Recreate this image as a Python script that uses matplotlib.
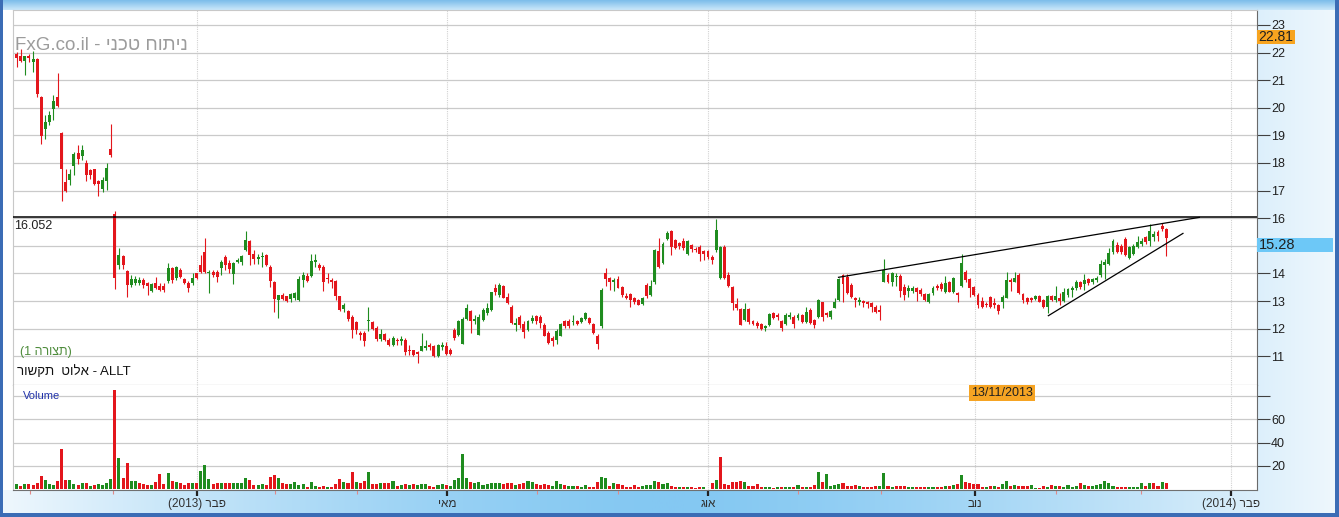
import numpy as np
import matplotlib
matplotlib.use('Agg')
import matplotlib.pyplot as plt
import matplotlib.transforms as mtransforms
from matplotlib.colors import LinearSegmentedColormap
from matplotlib.patches import Rectangle

plt.rcParams['font.family'] = ['Liberation Sans', 'DejaVu Sans']

# ALLT daily candles (about Nov 2012 - Jan 2014)
opens = [
    21.95, 21.89, 21.69, 21.89, 21.65, 21.77, 20.39, 19.22, 19.48, 19.94,
    20.39, 19.10, 17.31, 17.37, 17.89, 18.36, 18.24, 18.01, 17.73, 17.77,
    17.34, 17.07, 17.34, 18.52, 16.17, 14.30, 14.63, 14.10, 13.58, 13.64,
    13.66, 13.76, 13.64, 13.36, 13.64, 13.55, 13.55, 13.72, 14.18, 13.84,
    14.14, 13.80, 13.67, 13.64, 14.00, 14.30, 14.76, 14.00, 14.06, 14.06,
    14.18, 14.60, 14.36, 13.97, 14.42, 14.42, 14.84, 15.17, 14.72, 14.51,
    14.59, 14.66, 14.24, 13.70, 13.04, 13.22, 13.18, 13.08, 13.10, 13.04,
    13.76, 13.92, 13.92, 14.42, 14.30, 14.24, 13.85, 13.76, 13.73, 13.17,
    12.72, 12.64, 12.44, 12.24, 11.84, 11.86, 12.28, 12.24, 12.02, 11.63,
    11.80, 11.60, 11.40, 11.60, 11.56, 11.60, 11.24, 11.21, 11.15, 11.18,
    11.30, 11.42, 11.36, 11.00, 11.32, 11.36, 11.24, 11.96, 11.78, 11.44,
    12.36, 12.64, 12.28, 11.78, 12.32, 12.56, 12.68, 13.49, 13.22, 13.56,
    13.16, 12.80, 12.12, 12.44, 12.16, 11.96, 12.26, 12.46, 12.44, 12.14,
    11.84, 11.66, 11.60, 11.75, 12.28, 12.28, 12.24, 12.26, 12.24, 12.36,
    12.40, 12.16, 11.72, 12.08, 14.00, 13.85, 13.70, 13.80, 13.52, 13.18,
    13.25, 13.10, 13.04, 12.88, 13.58, 13.22, 13.68, 14.80, 14.36, 15.24,
    15.53, 15.20, 15.11, 15.17, 14.72, 15.02, 14.90, 14.96, 14.81, 14.81,
    14.60, 14.84, 13.82, 14.96, 13.96, 13.52, 12.88, 12.72, 12.32, 12.70,
    12.26, 12.20, 12.16, 12.02, 12.14, 12.56, 12.50, 12.28, 12.16, 12.44,
    12.44, 12.38, 12.48, 12.24, 12.68, 12.32, 12.44, 12.96, 12.56, 12.44,
    12.76, 13.04, 13.94, 13.88, 13.58, 13.12, 12.98, 13.00, 12.96, 12.92,
    12.80, 12.68, 13.70, 13.96, 13.70, 13.86, 13.92, 13.52, 13.37, 13.37,
    13.49, 13.40, 13.25, 12.98, 13.28, 13.56, 13.61, 13.34, 13.68, 13.34,
    13.28, 13.56, 14.04, 13.80, 13.52, 13.22, 13.00, 12.88, 13.16, 12.92,
    12.86, 12.96, 13.12, 13.76, 13.70, 13.96, 13.25, 13.12, 13.10, 13.08,
    13.20, 13.04, 12.80, 13.20, 13.04, 13.12, 13.00, 13.22, 13.40, 13.46,
    13.68, 13.61, 13.80, 13.70, 13.76, 13.93, 14.29, 14.35, 14.77, 15.03,
    15.01, 15.25, 14.55, 14.71, 14.95, 15.07, 15.31, 15.19, 15.31, 15.49,
    15.73, 15.61,
]
highs = [
    22.01, 22.13, 21.89, 21.95, 22.07, 21.80, 20.42, 19.72, 19.90, 20.45,
    21.25, 19.12, 17.80, 17.80, 18.40, 18.64, 18.66, 18.10, 17.80, 17.80,
    17.37, 17.49, 18.01, 19.42, 16.25, 14.93, 14.66, 14.12, 13.94, 13.90,
    13.86, 13.82, 13.70, 13.64, 13.88, 13.67, 13.64, 14.39, 14.24, 14.28,
    14.18, 13.84, 13.72, 14.02, 14.02, 14.66, 15.29, 14.12, 14.12, 14.12,
    14.48, 14.66, 14.48, 14.42, 14.57, 14.66, 15.54, 15.20, 14.84, 14.69,
    14.78, 14.72, 14.30, 13.73, 13.22, 13.28, 13.20, 13.28, 13.34, 13.92,
    14.04, 14.00, 14.72, 14.72, 14.36, 14.30, 14.00, 13.85, 13.77, 13.20,
    12.92, 12.68, 12.50, 12.28, 11.92, 11.92, 12.80, 12.28, 12.08, 11.98,
    11.84, 11.66, 11.72, 11.68, 11.75, 11.66, 11.42, 11.24, 11.20, 11.84,
    11.60, 11.48, 11.42, 11.44, 11.52, 11.52, 11.30, 12.02, 12.32, 12.44,
    12.88, 12.68, 12.50, 12.52, 12.74, 12.92, 13.34, 13.61, 13.64, 13.58,
    13.28, 12.86, 12.38, 12.50, 12.26, 12.32, 12.48, 12.50, 12.50, 12.20,
    11.90, 11.72, 11.98, 12.20, 12.32, 12.36, 12.48, 12.32, 12.44, 12.62,
    12.44, 12.20, 11.80, 13.46, 14.18, 13.88, 13.85, 13.92, 13.56, 13.28,
    13.28, 13.16, 13.06, 13.16, 13.64, 13.76, 14.90, 15.29, 15.14, 15.53,
    15.59, 15.26, 15.14, 15.29, 15.20, 15.08, 14.96, 15.02, 14.84, 14.84,
    14.66, 15.98, 14.99, 15.02, 14.04, 13.56, 13.10, 12.74, 12.92, 12.74,
    12.31, 12.26, 12.20, 12.14, 12.56, 12.62, 12.56, 12.32, 12.56, 12.62,
    12.50, 12.56, 12.52, 12.80, 12.74, 12.36, 13.06, 12.98, 12.62, 12.68,
    13.12, 13.85, 13.97, 13.97, 13.64, 13.16, 13.16, 13.04, 13.00, 12.98,
    12.86, 12.86, 14.52, 14.00, 14.06, 14.00, 13.97, 13.61, 13.58, 13.56,
    13.52, 13.49, 13.28, 13.28, 13.56, 13.61, 13.68, 13.92, 13.73, 13.88,
    13.34, 14.72, 14.12, 13.85, 13.56, 13.28, 13.16, 12.98, 13.20, 13.10,
    12.88, 13.22, 14.04, 13.82, 14.06, 14.00, 13.28, 13.16, 13.16, 13.22,
    13.22, 13.08, 13.22, 13.22, 13.56, 13.28, 13.49, 13.49, 13.56, 13.76,
    13.73, 13.97, 13.85, 13.85, 13.92, 14.47, 14.53, 14.91, 15.25, 15.13,
    15.07, 15.31, 15.01, 15.07, 15.34, 15.27, 15.37, 15.79, 15.55, 15.58,
    15.82, 15.63,
]
lows = [
    21.47, 21.65, 21.19, 21.65, 21.29, 20.39, 18.70, 18.88, 19.36, 19.54,
    20.02, 16.61, 16.95, 17.19, 17.55, 17.98, 18.10, 17.34, 17.43, 17.22,
    16.81, 16.95, 17.01, 18.22, 13.43, 14.16, 14.16, 13.16, 13.52, 13.58,
    13.58, 13.46, 13.22, 13.34, 13.42, 13.36, 13.34, 13.64, 13.64, 13.76,
    13.82, 13.60, 13.34, 13.58, 13.80, 14.00, 14.00, 13.28, 13.88, 13.70,
    13.94, 14.12, 14.00, 13.61, 14.36, 14.30, 14.82, 14.30, 14.33, 14.33,
    14.24, 14.27, 13.52, 12.62, 12.40, 13.04, 12.98, 12.96, 13.04, 13.00,
    13.52, 13.70, 13.88, 14.24, 14.12, 13.37, 13.64, 13.46, 13.03, 12.64,
    12.62, 12.28, 11.68, 11.80, 11.60, 11.36, 11.92, 11.96, 11.54, 11.54,
    11.54, 11.36, 11.36, 11.42, 11.42, 11.06, 11.06, 11.00, 10.76, 11.18,
    11.24, 11.24, 10.96, 10.96, 11.24, 11.06, 11.03, 11.60, 11.72, 11.44,
    12.32, 11.84, 12.16, 11.78, 12.26, 12.50, 12.64, 13.22, 13.16, 13.10,
    12.88, 12.16, 11.92, 12.02, 11.68, 11.90, 12.20, 12.16, 12.04, 11.72,
    11.44, 11.36, 11.44, 11.72, 12.02, 12.02, 12.12, 12.12, 12.20, 12.32,
    12.16, 11.80, 11.27, 12.04, 13.56, 13.40, 13.37, 13.46, 13.16, 13.08,
    12.80, 12.88, 12.84, 12.86, 13.12, 13.20, 13.61, 14.18, 14.33, 15.20,
    14.66, 14.88, 14.90, 14.84, 14.66, 14.76, 14.78, 14.45, 14.48, 14.54,
    14.33, 14.76, 13.80, 13.80, 13.52, 12.68, 12.68, 12.12, 12.26, 12.16,
    12.12, 12.02, 11.96, 11.92, 12.10, 12.35, 12.32, 11.92, 12.12, 12.35,
    12.02, 12.32, 12.20, 12.20, 12.16, 12.02, 12.40, 12.28, 12.44, 12.35,
    12.74, 13.00, 12.98, 13.25, 13.12, 12.77, 12.84, 12.77, 12.74, 12.62,
    12.56, 12.32, 13.68, 13.64, 13.56, 13.56, 13.16, 13.04, 13.16, 13.28,
    13.00, 13.20, 13.00, 12.92, 13.22, 13.40, 13.37, 13.28, 13.32, 13.28,
    12.96, 13.52, 13.70, 13.16, 13.20, 12.76, 12.74, 12.77, 12.74, 12.74,
    12.52, 12.74, 13.10, 13.37, 13.68, 13.25, 12.92, 12.88, 12.98, 13.04,
    12.96, 12.76, 12.56, 13.00, 12.98, 12.86, 12.96, 13.16, 13.16, 13.40,
    13.44, 13.40, 13.58, 13.61, 13.70, 13.87, 13.81, 14.29, 14.71, 14.74,
    14.71, 14.62, 14.53, 14.65, 14.91, 15.01, 15.07, 15.01, 15.19, 15.19,
    15.55, 14.62,
]
closes = [
    21.81, 21.71, 21.86, 21.81, 21.77, 20.51, 18.98, 19.48, 19.75, 20.24,
    20.08, 17.77, 16.98, 17.59, 18.34, 18.13, 18.46, 17.55, 17.55, 17.25,
    17.25, 17.40, 17.82, 18.28, 13.82, 14.66, 14.30, 13.58, 13.80, 13.80,
    13.76, 13.58, 13.54, 13.60, 13.46, 13.40, 13.39, 14.18, 13.78, 14.22,
    13.87, 13.64, 13.46, 13.84, 13.82, 14.06, 14.06, 14.06, 13.94, 13.88,
    14.42, 14.30, 14.16, 14.36, 14.48, 14.64, 15.20, 14.66, 14.54, 14.58,
    14.63, 14.30, 13.73, 13.08, 13.22, 13.08, 13.02, 13.25, 13.29, 13.79,
    13.94, 13.73, 14.45, 14.48, 14.18, 13.70, 13.80, 13.70, 13.20, 12.68,
    12.84, 12.36, 11.96, 11.96, 11.78, 11.56, 12.32, 12.00, 11.63, 11.80,
    11.60, 11.42, 11.66, 11.54, 11.63, 11.15, 11.18, 11.06, 11.08, 11.36,
    11.36, 11.32, 11.00, 11.42, 11.42, 11.08, 11.08, 11.68, 12.26, 12.36,
    12.76, 12.26, 12.36, 12.44, 12.68, 12.76, 13.31, 13.31, 13.58, 13.12,
    12.92, 12.20, 12.20, 12.14, 11.87, 12.28, 12.40, 12.26, 12.20, 11.75,
    11.48, 11.56, 11.92, 12.16, 12.08, 12.08, 12.28, 12.16, 12.40, 12.58,
    12.20, 11.84, 11.44, 13.40, 13.80, 13.70, 13.76, 13.49, 13.22, 13.12,
    13.04, 12.96, 12.86, 13.12, 13.20, 13.56, 14.84, 14.24, 15.08, 15.47,
    14.96, 14.93, 14.99, 14.93, 15.17, 14.90, 14.84, 14.69, 14.69, 14.60,
    14.48, 15.56, 14.96, 13.82, 13.56, 12.92, 12.74, 12.14, 12.70, 12.24,
    12.16, 12.08, 12.00, 12.08, 12.52, 12.38, 12.44, 12.02, 12.50, 12.50,
    12.16, 12.48, 12.24, 12.62, 12.20, 12.14, 13.04, 12.44, 12.50, 12.64,
    12.98, 13.79, 13.61, 13.28, 13.16, 13.04, 13.04, 12.92, 12.88, 12.80,
    12.62, 12.62, 14.12, 13.70, 14.00, 13.92, 13.37, 13.22, 13.49, 13.49,
    13.32, 13.25, 13.04, 13.25, 13.49, 13.46, 13.44, 13.64, 13.34, 13.82,
    13.22, 14.36, 13.76, 13.46, 13.22, 12.84, 12.80, 12.84, 12.80, 12.84,
    12.64, 13.16, 13.76, 13.70, 13.82, 13.28, 13.04, 12.98, 13.04, 13.20,
    12.98, 12.80, 13.20, 13.04, 13.20, 13.00, 13.34, 13.44, 13.49, 13.68,
    13.52, 13.76, 13.64, 13.80, 13.82, 14.35, 14.41, 14.74, 15.19, 14.79,
    14.77, 14.65, 14.95, 15.01, 15.13, 15.19, 15.13, 15.55, 15.43, 15.37,
    15.61, 15.28,
]
volumes = [
    4.3, 2.6, 4.3, 4.3, 3.4, 4.9, 11.2, 7.8, 4.3, 3.4,
    6.9, 34.5, 7.8, 7.8, 4.3, 3.4, 4.9, 4.9, 2.6, 3.4,
    4.3, 3.4, 5.5, 8.6, 85.3, 26.4, 9.5, 22.1, 6.9, 6.9,
    4.9, 4.3, 3.4, 3.4, 6.0, 12.9, 4.3, 13.5, 6.9, 6.0,
    4.9, 3.4, 4.9, 4.9, 4.9, 15.5, 20.4, 8.6, 4.3, 4.9,
    4.9, 4.9, 4.9, 4.9, 4.9, 5.5, 9.2, 7.8, 3.4, 3.4,
    4.3, 3.4, 10.6, 11.8, 9.5, 4.9, 4.3, 4.3, 6.0, 3.4,
    4.3, 2.0, 6.0, 2.6, 1.4, 2.6, 2.0, 1.4, 4.3, 8.9,
    6.0, 5.5, 14.7, 6.0, 5.5, 6.9, 14.7, 4.3, 4.3, 4.9,
    4.9, 4.9, 6.9, 2.6, 3.4, 4.3, 3.4, 4.3, 3.4, 4.3,
    4.3, 2.6, 2.0, 3.4, 4.3, 3.4, 2.6, 7.8, 9.2, 30.2,
    9.2, 6.0, 4.9, 6.0, 3.4, 4.3, 4.9, 4.9, 4.9, 4.3,
    4.9, 4.9, 3.4, 4.3, 5.5, 6.9, 6.0, 4.3, 3.4, 4.3,
    3.4, 2.6, 6.9, 4.3, 3.4, 2.6, 2.6, 2.6, 2.0, 3.2,
    2.0, 2.0, 6.0, 10.3, 9.5, 2.6, 4.9, 4.3, 3.4, 2.0,
    2.0, 3.4, 2.0, 2.6, 3.4, 3.4, 6.9, 6.0, 4.3, 4.9,
    2.6, 2.0, 2.0, 1.4, 2.0, 1.4, 0.9, 1.4, 1.4, 0.3,
    4.9, 7.8, 27.3, 4.3, 3.4, 6.0, 6.0, 6.9, 6.0, 2.6,
    2.6, 4.3, 1.4, 1.4, 1.4, 0.9, 1.4, 1.4, 1.4, 1.4,
    1.4, 3.2, 1.4, 1.4, 2.0, 3.4, 14.7, 6.0, 12.9, 2.6,
    3.4, 4.3, 4.9, 2.6, 2.6, 3.4, 2.6, 1.4, 1.4, 1.4,
    2.6, 2.6, 13.8, 2.6, 2.0, 2.6, 2.6, 2.6, 1.4, 2.0,
    2.0, 2.0, 1.4, 2.0, 2.0, 2.0, 2.0, 2.6, 2.6, 3.4,
    4.0, 12.1, 6.0, 4.9, 4.3, 4.3, 2.0, 2.0, 2.6, 2.6,
    2.0, 4.3, 6.9, 2.6, 3.4, 2.6, 2.6, 2.6, 3.4, 0.9,
    0.9, 2.6, 1.4, 3.4, 2.6, 2.6, 2.0, 3.4, 2.0, 2.6,
    4.9, 3.4, 2.6, 2.6, 3.4, 4.3, 6.9, 4.9, 2.6, 1.4,
    1.4, 1.4, 1.4, 2.0, 2.0, 4.9, 2.6, 4.9, 4.9, 2.6,
    6.0, 4.9,
]

# month ticks (in trading-day index) and their labels (Hebrew in display order)
major_pos = [44.1, 105.2, 169.0, 234.3, 296.9]
major_labels = ['(2013) רבפ', 'יאמ', 'גוא', 'בונ', '(2014) רבפ']
minor_pos = [3.3, 23.5, 63.2, 83.2, 127.2, 147.0, 191.0, 211.3, 254.1, 274.9]

# price axis ticks; 15 is hidden under the last-price box
price_ticks = list(range(11, 24))
price_tick_labels = ['' if t == 15 else str(t) for t in price_ticks]

# drawn analysis lines: (start index, start price), (end index, end price)
level_line = 16.052
upper_trend = [(200.9, 13.86), (289.1, 16.03)]
lower_trend = [(252.2, 12.47), (285.1, 15.45)]
last_price = 15.28
top_price = 22.81

GREEN = '#1f8c1f'
RED = '#e3161c'
GRID = '#cacaca'

o = np.array(opens)
h = np.array(highs)
l = np.array(lows)
c = np.array(closes)
v = np.array(volumes)
x = np.arange(len(c))
candle_colors = np.where(c >= o, GREEN, RED)
prev_close = np.r_[c[0], c[:-1]]
vol_colors = np.where(c >= prev_close, GREEN, RED)

W, H = 1339, 517


def box(x0, y0, x1, y1):
    return [x0 / W, 1 - y1 / H, (x1 - x0) / W, (y1 - y0) / H]


fig = plt.figure(figsize=(W / 100, H / 100), dpi=100, facecolor='#3b6cb5')

# background: light blue gradient frame, white chart area
bg = fig.add_axes(box(3, 0, 1335, 513))
bg.set_axis_off()
grad = np.abs(np.linspace(-1, 1, 600)) ** 1.5
bg_cmap = LinearSegmentedColormap.from_list('bgc', ['#84c8f2', '#eef7fd'])
bg.imshow(grad[None, :], aspect='auto', cmap=bg_cmap, extent=[0, 1, 0, 1])
bg.add_patch(Rectangle((0, 1 - 490 / 513), 1254 / 1332, 480 / 513,
                       facecolor='white', edgecolor='none'))
bg.set_xlim(0, 1)
bg.set_ylim(0, 1)

top = fig.add_axes(box(3, 0, 1335, 10))
top.set_axis_off()
top.imshow(np.linspace(0, 1, 20)[:, None], aspect='auto',
           cmap=LinearSegmentedColormap.from_list('tb', ['#7dbdea', '#c9e7fa']),
           extent=[0, 1, 0, 1])

# price panel
ax = fig.add_axes(box(13, 10, 1257, 385))
ax.set_facecolor('white')
ax.vlines(x, l, h, colors=candle_colors, linewidth=0.8, zorder=3)
ax.bar(x, np.maximum(np.abs(c - o), 0.03), bottom=np.minimum(o, c), width=0.72,
       color=candle_colors, linewidth=0, zorder=4)
ax.axhline(level_line, color='black', linewidth=1.1, zorder=5)
ax.plot([p[0] for p in upper_trend], [p[1] for p in upper_trend], color='black', lw=0.9, zorder=5)
ax.plot([p[0] for p in lower_trend], [p[1] for p in lower_trend], color='black', lw=0.9, zorder=5)

ax.set_xlim(-0.9, 303.2)
ax.set_ylim(9.96, 23.54)
ax.set_yticks(price_ticks)
ax.set_yticklabels(price_tick_labels)
ax.yaxis.tick_right()
ax.tick_params(axis='y', direction='out', length=9, width=0.8, color='#404040',
               labelsize=9, pad=1, labelcolor='#202020')
ax.tick_params(axis='x', bottom=False, labelbottom=False)
ax.grid(axis='y', color=GRID, linewidth=0.9, zorder=0)
for p in major_pos:
    ax.axvline(p, color='#d2d2d2', linewidth=0.8, linestyle=(0, (1, 1)), zorder=0)
ax.spines['left'].set_color('#c8c8c8')
ax.spines['top'].set_color('#c8c8c8')
ax.spines['bottom'].set_color('#707070')
ax.spines['right'].set_color('#6a6a6a')

trans = mtransforms.blended_transform_factory(ax.transAxes, ax.transData)
ax.add_patch(Rectangle((1.0, top_price - 0.5), 38 / 1244, 0.5, transform=trans,
                       facecolor='#f7a41f', edgecolor='none', clip_on=False, zorder=6))
ax.text(1.0 + 1 / 1244, top_price - 0.25, f'{top_price:.2f}', transform=trans,
        ha='left', va='center', fontsize=10, color='#202020', clip_on=False, zorder=7)
ax.add_patch(Rectangle((1.0, last_price - 0.5), 76 / 1244, 0.5, transform=trans,
                       facecolor='#6dc8f7', edgecolor='none', clip_on=False, zorder=6))
ax.text(1.0 + 2 / 1244, last_price - 0.25, f'{last_price:.2f}', transform=trans,
        ha='left', va='center', fontsize=10.5, color='#202020', clip_on=False, zorder=7)

ax.text(1 / 1244, level_line - 0.12, f'{level_line:.3f}', transform=trans,
        ha='left', va='top', fontsize=9, color='#202020', zorder=7)

fig.text(15 / W, 1 - 45 / H, 'FxG.co.il - ינכט חותינ', ha='left', va='center',
         fontsize=13.5, color='#9c9c9c')
fig.text(20 / W, 1 - 352 / H, '(1 הרוצת)', ha='left', va='center',
         fontsize=9, color='#4e8c3c')
fig.text(17 / W, 1 - 372 / H, 'רושקת  טולא - ALLT', ha='left', va='center',
         fontsize=9.5, color='#111111')

# volume panel
vax = fig.add_axes(box(13, 385, 1257, 490), sharex=ax)
vax.set_facecolor('white')
vax.bar(x, v, width=0.75, color=vol_colors, linewidth=0, zorder=3)
vax.set_ylim(-0.86, 89.7)
vax.set_yticks([20, 40, 60, 80])
vax.set_yticklabels(['20', '40', '60', ''])
vax.yaxis.tick_right()
vax.tick_params(axis='y', direction='out', length=9, width=0.8, color='#404040',
                labelsize=9, pad=1, labelcolor='#202020')
vax.grid(axis='y', color=GRID, linewidth=0.9, zorder=0)
for p in major_pos:
    vax.axvline(p, color='#d2d2d2', linewidth=0.8, linestyle=(0, (1, 1)), zorder=0)
vax.set_xticks(major_pos)
vax.set_xticklabels(major_labels)
vax.set_xticks(minor_pos, minor=True)
vax.tick_params(axis='x', which='major', direction='out', length=4, width=1.6,
                color='#202020', labelsize=8.5, labelcolor='#303030', pad=2)
vax.tick_params(axis='x', which='minor', direction='out', length=3, width=0.8,
                color='#e08a8a')
vax.spines['left'].set_color('#c8c8c8')
vax.spines['top'].set_visible(False)
vax.spines['bottom'].set_color('#707070')
vax.spines['right'].set_color('#6a6a6a')
vax.text(10 / 1244, 0.895, 'Volume', transform=vax.transAxes, ha='left', va='center',
         fontsize=8, color='#2233aa')
fig.text(1002 / W, 1 - 393 / H, '13/11/2013', ha='center', va='center', fontsize=9,
         color='#202020', bbox=dict(boxstyle='square,pad=0.15', fc='#f6a423', ec='none'))

fig.savefig('out.png', dpi=100, facecolor=fig.get_facecolor())
